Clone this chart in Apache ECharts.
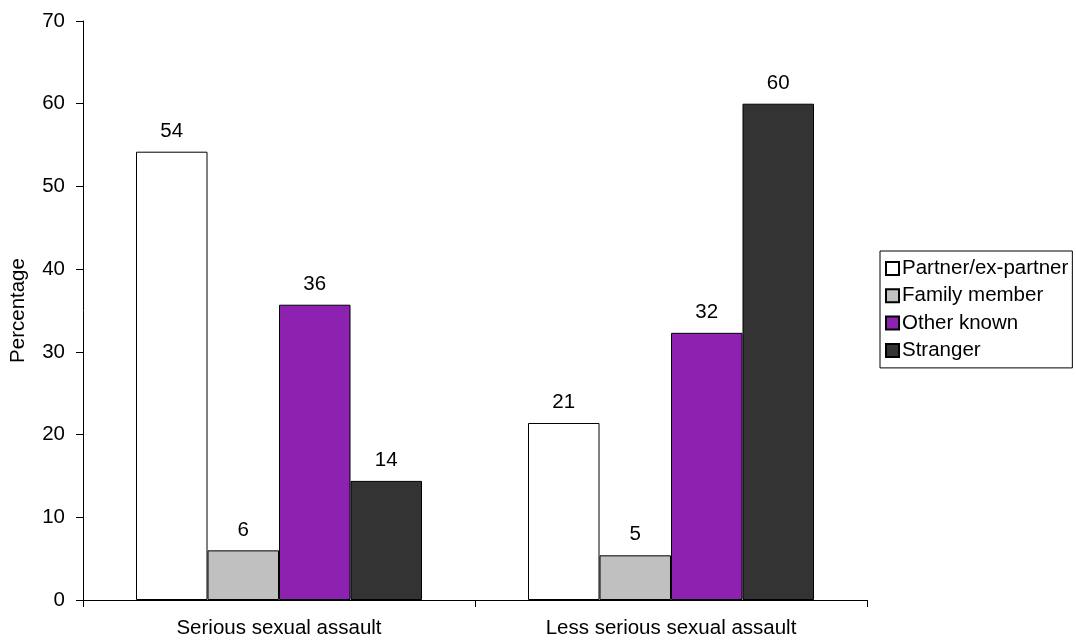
<!DOCTYPE html>
<html>
<head>
<meta charset="utf-8">
<script src="https://cdn.jsdelivr.net/npm/echarts@6/dist/echarts.min.js"></script>
<style>html,body{margin:0;padding:0;background:#fff}#c{width:1076px;height:640px}</style>
</head>
<body>
<div id="c"></div>
<script>
var categories = ['Serious sexual assault', 'Less serious sexual assault'];
var seriesNames = ['Partner/ex-partner', 'Family member', 'Other known', 'Stranger'];
var partner = [54.2, 21.4];
var family = [6.0, 5.4];
var otherKnown = [35.7, 32.3];
var stranger = [14.4, 60.0];
var yTicks = [0, 10, 20, 30, 40, 50, 60, 70];
var colors = ['#FFFFFF', '#C0C0C0', '#8E22B0', '#333333'];

var dataSets = [partner, family, otherKnown, stranger];
var font = 'Arial, "Liberation Sans", sans-serif';
var fs = 20.5;
var chart = echarts.init(document.getElementById('c'));
chart.setOption({
  animation: false,
  textStyle: {fontFamily: font},
  grid: {left: 82, right: 209, top: 21, bottom: 40},
  legend: {
    orient: 'vertical',
    left: 880, top: 251,
    data: seriesNames,
    itemWidth: 13, itemHeight: 13, itemGap: 6.3,
    icon: 'rect',
    borderColor: '#000', borderWidth: 1,
    padding: [7, 4, 7, 5],
    textStyle: {fontSize: fs, color: '#000', fontFamily: font, padding: [0, 0, 0, -2]}
  },
  xAxis: {
    type: 'category',
    data: categories,
    axisLine: {lineStyle: {color: '#000', width: 1}},
    axisTick: {show: true, length: 7, lineStyle: {color: '#000'}},
    axisLabel: {fontSize: fs, color: '#000', margin: 18, fontFamily: font},
    splitLine: {show: false}
  },
  yAxis: {
    type: 'value',
    min: yTicks[0], max: yTicks[yTicks.length - 1], interval: 10,
    name: 'Percentage',
    nameLocation: 'middle',
    nameGap: 54,
    nameTextStyle: {fontSize: fs, color: '#000', fontFamily: font},
    axisLine: {show: true, lineStyle: {color: '#000', width: 1}},
    axisTick: {show: true, length: 7, lineStyle: {color: '#000'}},
    axisLabel: {fontSize: fs, color: '#000', margin: 18, fontFamily: font},
    splitLine: {show: false}
  },
  series: seriesNames.map(function (n, i) {
    return {
      name: n,
      type: 'bar',
      data: dataSets[i],
      barWidth: 71.5,
      barGap: '0%',
      itemStyle: {color: colors[i], borderColor: '#000', borderWidth: 1},
      label: {
        show: true, position: 'top', distance: 10,
        fontSize: fs, color: '#000', fontFamily: font,
        formatter: function (p) { return Math.round(p.value); }
      }
    };
  })
});
</script>
</body>
</html>
